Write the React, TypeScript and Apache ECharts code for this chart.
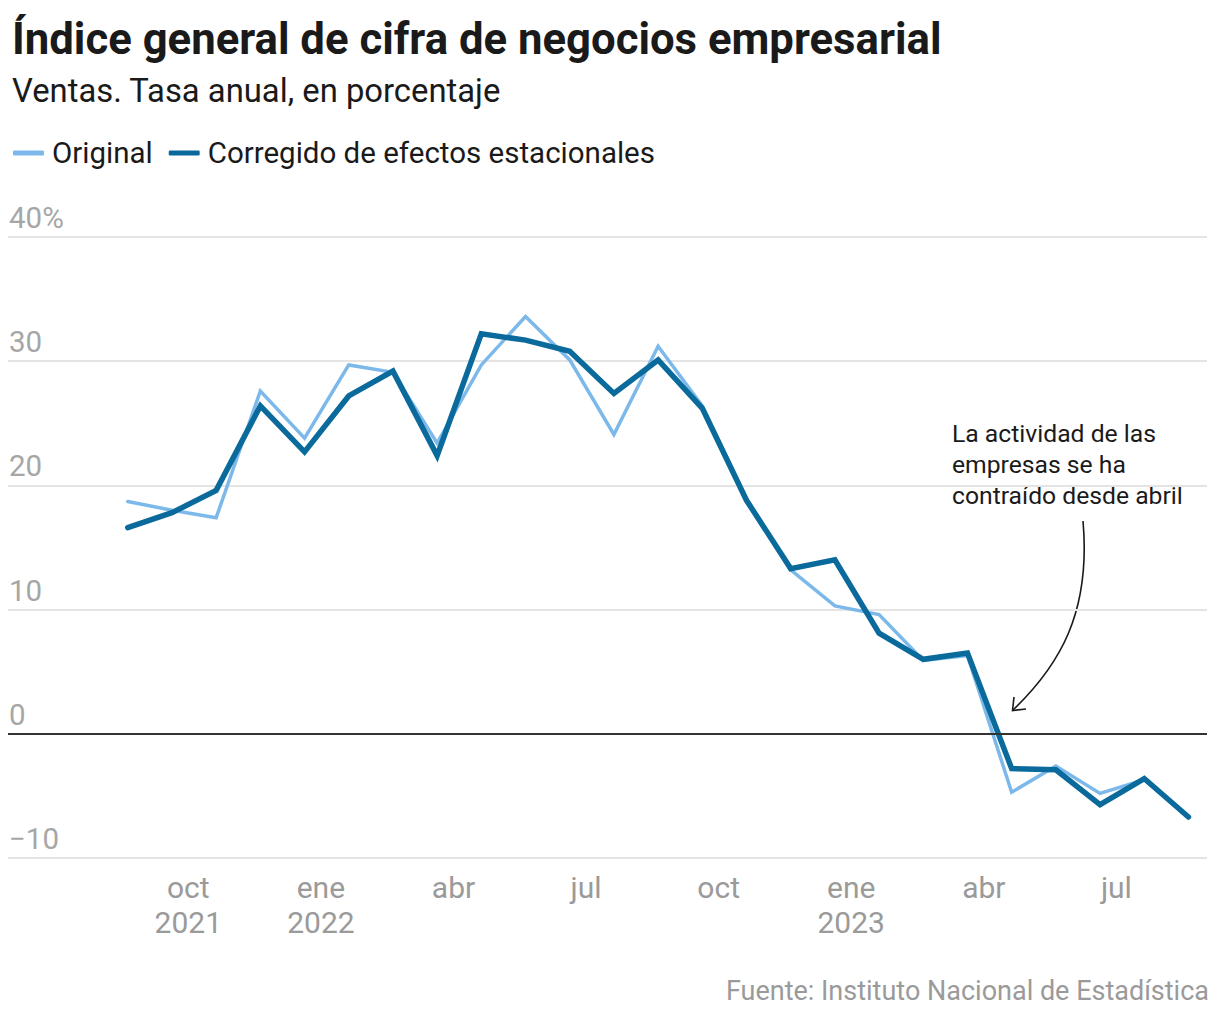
import React, { useEffect, useRef } from "react";
import * as echarts from "echarts";

// Monthly data: ago 2021 … ago 2023 (index 0 = ago 2021)
const months = [
  "ago 2021", "sep 2021", "oct 2021", "nov 2021", "dic 2021",
  "ene 2022", "feb 2022", "mar 2022", "abr 2022", "may 2022", "jun 2022", "jul 2022",
  "ago 2022", "sep 2022", "oct 2022", "nov 2022", "dic 2022",
  "ene 2023", "feb 2023", "mar 2023", "abr 2023", "may 2023", "jun 2023", "jul 2023", "ago 2023",
];
const original = [
  18.7, 18.0, 17.4, 27.6, 23.8, 29.7, 29.1, 23.4, 29.7, 33.6, 30.1, 24.1,
  31.2, 26.4, 18.9, 13.2, 10.3, 9.6, 5.9, 6.3, -4.7, -2.6, -4.8, -3.7, -6.7,
];
const corregido = [
  16.6, 17.8, 19.6, 26.4, 22.7, 27.2, 29.2, 22.4, 32.2, 31.7, 30.8, 27.4,
  30.1, 26.2, 18.8, 13.3, 14.0, 8.1, 6.0, 6.5, -2.8, -2.9, -5.7, -3.6, -6.7,
];
const tickMonthIdx = [2, 5, 8, 11, 14, 17, 20, 23];
const tickLabels = ["oct\n2021", "ene\n2022", "abr", "jul", "oct", "ene\n2023", "abr", "jul"];
const yTickLabels: Record<number, string> = { 40: "40%", 30: "30", 20: "20", 10: "10", 0: "0", [-10]: "\u221210" };

const TITLE = "Índice general de cifra de negocios empresarial";
const SUBTITLE = "Ventas. Tasa anual, en porcentaje";
const SOURCE = "Fuente: Instituto Nacional de Estadística";
const NOTE = "La actividad de las\nempresas se ha\ncontraído desde abril";
const SERIES_NAMES = ["Original", "Corregido de efectos estacionales"];

const FONT = "Roboto, 'Liberation Sans', sans-serif";
const LABEL_OFFSET = 0.63;

export default function App() {
  const ref = useRef<HTMLDivElement>(null);
  useEffect(() => {
    if (!ref.current) return;
    const chart = echarts.init(ref.current, undefined, { renderer: "svg" });
    const labelPos = tickMonthIdx.map((m) => m - LABEL_OFFSET);
    chart.setOption({
      animation: false,
      backgroundColor: "#ffffff",
      textStyle: { fontFamily: FONT },
      title: [
        {
          text: TITLE,
          left: 7,
          top: 10,
          textStyle: { fontFamily: FONT, fontSize: 43.7, fontWeight: "bold", color: "#1a1a1a", lineHeight: 48 },
        },
        {
          text: SUBTITLE,
          left: 7,
          top: 68,
          textStyle: { fontFamily: FONT, fontSize: 32.8, fontWeight: "normal", color: "#1a1a1a", lineHeight: 36 },
        },
        {
          text: SOURCE,
          right: 6,
          top: 971,
          textStyle: { fontFamily: FONT, fontSize: 27, fontWeight: "normal", color: "#9a9a9a", lineHeight: 30 },
        },
      ],
      legend: {
        left: 8,
        top: 133,
        icon: "roundRect",
        itemWidth: 31,
        itemHeight: 5,
        itemGap: 16,
        selectedMode: false,
        textStyle: { fontFamily: FONT, fontSize: 29.5, color: "#1a1a1a", padding: [0, 0, 0, 3] },
        data: SERIES_NAMES,
      },
      grid: { left: 8, right: 13, top: 237, bottom: 162, containLabel: false },
      xAxis: {
        type: "value",
        min: -2.71,
        max: 24.42,
        axisLine: { show: false },
        axisTick: { show: false },
        splitLine: { show: false },
        axisLabel: {
          customValues: labelPos,
          margin: 12,
          fontFamily: FONT,
          fontSize: 30,
          lineHeight: 35,
          color: "#9a9a9a",
          formatter: (v: number) => {
            const i = labelPos.findIndex((p) => Math.abs(p - v) < 0.01);
            return i >= 0 ? tickLabels[i] : "";
          },
        },
      },
      yAxis: {
        type: "value",
        min: -10,
        max: 40,
        interval: 10,
        axisLine: { show: false },
        axisTick: { show: false },
        splitLine: { lineStyle: { color: "#e4e4e4", width: 2 } },
        axisLabel: {
          inside: true,
          margin: 1,
          align: "left",
          verticalAlign: "bottom",
          padding: [0, 0, 4, 0],
          fontFamily: FONT,
          fontSize: 29.5,
          lineHeight: 30,
          color: "#a6a6a6",
          formatter: (v: number) => yTickLabels[v] ?? String(v),
        },
      },
      series: [
        {
          name: SERIES_NAMES[0],
          type: "line",
          data: original.map((v, i) => [i, v]),
          showSymbol: false,
          symbol: "none",
          color: "#7cb9ea",
          lineStyle: { color: "#7cb9ea", width: 3.5, cap: "round", join: "miter" },
          markLine: {
            silent: true,
            symbol: ["none", "none"],
            label: { show: false },
            lineStyle: { color: "#333333", width: 2, type: "solid" },
            data: [{ yAxis: 0 }],
          },
          z: 2,
        },
        {
          name: SERIES_NAMES[1],
          type: "line",
          data: corregido.map((v, i) => [i, v]),
          showSymbol: false,
          symbol: "none",
          color: "#0a6a9c",
          lineStyle: { color: "#0a6a9c", width: 5.5, cap: "round", join: "miter" },
          z: 3,
        },
      ],
      graphic: [
        {
          type: "text",
          left: 952,
          top: 418,
          style: {
            text: NOTE,
            fontFamily: FONT,
            fontSize: 24.7,
            lineHeight: 31,
            fill: "#1a1a1a",
          },
        },
        {
          type: "bezierCurve",
          shape: { x1: 1083, y1: 521, cpx1: 1091, cpy1: 612, cpx2: 1060, cpy2: 665, x2: 1013, y2: 710 },
          style: { stroke: "#1a1a1a", lineWidth: 1.6, fill: "none" },
        },
        {
          type: "polyline",
          shape: { points: [[1014, 697], [1012.5, 710.5], [1026, 709]] },
          style: { stroke: "#1a1a1a", lineWidth: 1.6, fill: "none" },
        },
      ],
    });
    return () => chart.dispose();
  }, []);
  return (
    <div
      ref={ref}
      style={{ position: "fixed", left: 0, top: 0, width: 1220, height: 1020, background: "#fff" }}
    />
  );
}
